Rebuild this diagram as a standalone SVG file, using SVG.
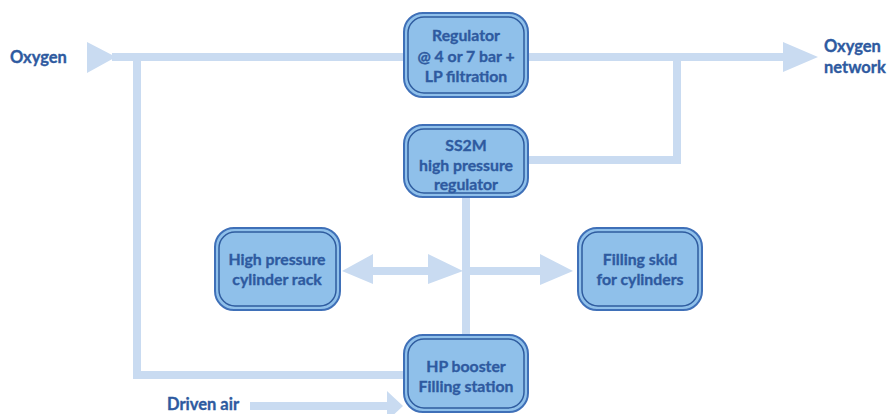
<svg xmlns="http://www.w3.org/2000/svg" width="889" height="414" viewBox="0 0 889 414">
<style>
.ln{fill:none;stroke:#C9DBF1;stroke-width:8}
.ah{fill:#C9DBF1}
.bo{fill:#8FC0EA;stroke:#3F70B8;stroke-width:2}
.bi{fill:none;stroke:#2F5C9F;stroke-width:1.5}
.t{font-family:Lato,"Liberation Sans",sans-serif;font-weight:bold;font-size:15.8px;fill:#2E5AA0;stroke:#2E5AA0;stroke-width:0.35;text-anchor:middle}
.l{font-family:Lato,"Liberation Sans",sans-serif;font-weight:bold;font-size:16.5px;fill:#2E5AA0;stroke:#2E5AA0;stroke-width:0.35}
</style>
<rect width="889" height="414" fill="#FFFFFF"/>
<g id="connectors">
<polyline class="ln" points="112,57 790,57"/>
<polygon class="ah" points="87,42 116,57 87,73"/>
<polygon class="ah" points="783,42 818,57 783,72"/>
<polyline class="ln" points="137,57 137,375 405,375"/>
<polyline class="ln" points="528,160 677,160 677,57"/>
<polyline class="ln" points="466,197 466,337"/>
<polyline class="ln" points="370,271 432,271"/>
<polygon class="ah" points="342,271 373,254 373,284"/>
<polygon class="ah" points="463,271 428,254 428,284"/>
<polyline class="ln" points="466,271 545,271"/>
<polygon class="ah" points="573,271 540,254 540,285"/>
<polyline class="ln" points="250,406 390,406"/>
<polygon class="ah" points="403,406 387,391 387,421"/>
</g>
<g id="regulator">
<rect class="bo" x="404" y="13" width="124" height="84" rx="19"/>
<rect class="bi" x="408" y="17" width="116" height="76" rx="16"/>
<text class="t" x="466" y="41">Regulator</text>
<text class="t" x="466" y="62">@ 4 or 7 bar +</text>
<text class="t" x="466" y="82">LP filtration</text>
</g>
<g id="ss2m">
<rect class="bo" x="404" y="125" width="124" height="72" rx="19"/>
<rect class="bi" x="408" y="129" width="116" height="64" rx="16"/>
<text class="t" x="466" y="151">SS2M</text>
<text class="t" x="466" y="171">high pressure</text>
<text class="t" x="466" y="190">regulator</text>
</g>
<g id="rack">
<rect class="bo" x="215" y="228" width="125" height="82" rx="19"/>
<rect class="bi" x="219" y="232" width="117" height="74" rx="16"/>
<text class="t" x="277" y="265">High pressure</text>
<text class="t" x="277" y="285">cylinder rack</text>
</g>
<g id="skid">
<rect class="bo" x="578" y="228" width="124" height="82" rx="19"/>
<rect class="bi" x="582" y="232" width="116" height="74" rx="16"/>
<text class="t" x="640" y="265">Filling skid</text>
<text class="t" x="640" y="285">for cylinders</text>
</g>
<g id="booster">
<rect class="bo" x="404" y="335" width="124" height="77" rx="19"/>
<rect class="bi" x="408" y="339" width="116" height="69" rx="16"/>
<text class="t" x="466" y="372">HP booster</text>
<text class="t" x="466" y="392">Filling station</text>
</g>
<g id="labels">
<text class="l" x="10" y="63">Oxygen</text>
<text class="l" x="824" y="52">Oxygen</text>
<text class="l" x="824" y="73">network</text>
<text class="l" x="167" y="410">Driven air</text>
</g>
</svg>
